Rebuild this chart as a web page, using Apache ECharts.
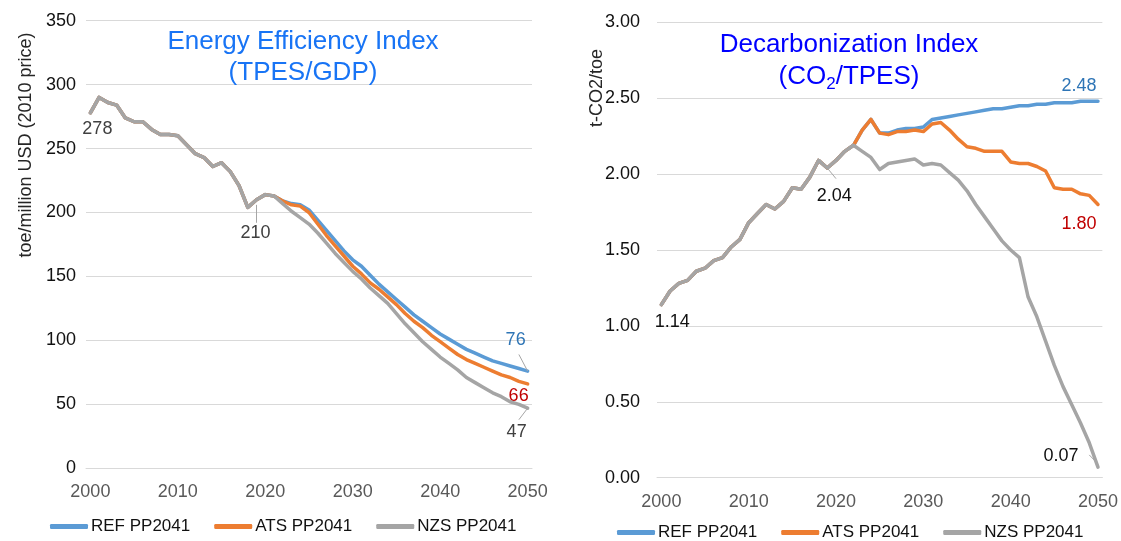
<!DOCTYPE html>
<html>
<head>
<meta charset="utf-8">
<script src="https://cdn.jsdelivr.net/npm/echarts@6/dist/echarts.min.js"></script>
<style>html,body{margin:0;padding:0;background:#fff;}#c{width:1121px;height:541px;}</style>
</head>
<body>
<div id="c"></div>
<script>
// ---- categories ----
var years = ['2000','2001','2002','2003','2004','2005','2006','2007','2008','2009',
  '2010','2011','2012','2013','2014','2015','2016','2017','2018','2019',
  '2020','2021','2022','2023','2024','2025','2026','2027','2028','2029',
  '2030','2031','2032','2033','2034','2035','2036','2037','2038','2039',
  '2040','2041','2042','2043','2044','2045','2046','2047','2048','2049','2050'];
var seriesNames = ['REF PP2041', 'ATS PP2041', 'NZS PP2041'];

// ---- Energy Efficiency Index (toe/million USD) ----
var eeREF = [278,290,286,284,274,271,271,265,261,261,260,253,246,243,236,239,232,221,204,210,214,213,
  209,207,206,202,194,186,178,170,163,158,151,144,138,132,126,120,115,110,105,101,97,93,90,87,84,82,80,78,76];
var eeATS = [278,290,286,284,274,271,271,265,261,261,260,253,246,243,236,239,232,221,204,210,214,213,
  209,206,205,200,191,182,174,166,158,152,145,140,134,128,121,115,110,104,99,94,89,85,82,79,76,73,71,68,66];
var eeNZS = [278,290,286,284,274,271,271,265,261,261,260,253,246,243,236,239,232,221,204,210,214,213,
  207,201,196,191,184,176,168,161,154,148,141,135,129,121,113,106,99,93,87,82,77,71,67,63,59,56,52,50,47];

// ---- Decarbonization Index (t-CO2/toe) ----
var diREF = [1.14,1.23,1.28,1.30,1.36,1.38,1.43,1.45,1.52,1.57,1.68,1.74,1.80,1.77,1.82,1.91,1.90,1.98,2.09,2.04,2.09,2.15,
  2.19,2.29,2.36,2.27,2.27,2.29,2.30,2.30,2.31,2.36,2.37,2.38,2.39,2.40,2.41,2.42,2.43,2.43,2.44,2.45,2.45,2.46,2.46,2.47,2.47,2.47,2.48,2.48,2.48];
var diATS = [1.14,1.23,1.28,1.30,1.36,1.38,1.43,1.45,1.52,1.57,1.68,1.74,1.80,1.77,1.82,1.91,1.90,1.98,2.09,2.04,2.09,2.15,
  2.19,2.29,2.36,2.27,2.26,2.28,2.28,2.29,2.28,2.33,2.34,2.29,2.23,2.18,2.17,2.15,2.15,2.15,2.08,2.07,2.07,2.05,2.02,1.91,1.90,1.90,1.87,1.86,1.80];
var diNZS = [1.14,1.23,1.28,1.30,1.36,1.38,1.43,1.45,1.52,1.57,1.68,1.74,1.80,1.77,1.82,1.91,1.90,1.98,2.09,2.04,2.09,2.15,
  2.19,2.15,2.11,2.03,2.07,2.08,2.09,2.10,2.06,2.07,2.06,2.01,1.96,1.89,1.80,1.72,1.64,1.56,1.50,1.45,1.19,1.06,0.90,0.74,0.60,0.48,0.36,0.23,0.07];

// ---- tick settings ----
var eeTicks = {min: 0, max: 350, interval: 50};
var diTicks = {min: 0, max: 3, interval: 0.5};

var FONT = '"Liberation Sans", Arial, sans-serif';
var colors = ['#5B9BD5', '#ED7D31', '#A5A5A5'];

function withLabels(arr, labels, fmt) {
  return arr.map(function (v, i) {
    var l = labels[i];
    if (!l) return v;
    return {
      value: v,
      label: {
        show: true, position: [l[0], l[1]], align: 'center', verticalAlign: 'middle',
        color: l[2], fontSize: 18, fontFamily: FONT,
        formatter: function (p) { return fmt(p.value); }
      }
    };
  });
}
var intFmt = function (v) { return String(Math.round(v)); };
var decFmt = function (v) { return Number(v).toFixed(2); };

var leaderStyle = {color: '#A6A6A6', width: 1, type: 'solid'};
function leaders(pairs) {
  return {
    silent: true, symbol: ['none', 'none'], label: {show: false},
    lineStyle: leaderStyle, animation: false,
    data: pairs.map(function (p) { return [{coord: p[0]}, {coord: p[1]}]; })
  };
}

function lineSeries(name, idx, data, xi, yi, extra) {
  var s = {
    name: name, type: 'line', xAxisIndex: xi, yAxisIndex: yi, data: data,
    showSymbol: true, showAllSymbol: true, symbol: 'circle', symbolSize: 2,
    lineStyle: {width: 3.5, color: colors[idx], cap: 'round', join: 'round'},
    itemStyle: {color: colors[idx]},
    label: {show: false}, emphasis: {disabled: true}, animation: false, z: 2 + idx
  };
  if (extra) for (var k in extra) s[k] = extra[k];
  return s;
}

var chart = echarts.init(document.getElementById('c'), null, {renderer: 'canvas'});

var axisLabelY = {color: '#111', fontSize: 18, fontFamily: FONT};
var axisLabelX = {color: '#595959', fontSize: 18, fontFamily: FONT, interval: 9, margin: 15};

var option = {
  backgroundColor: '#fff',
  animation: false,
  textStyle: {fontFamily: FONT},
  title: [
    {
      text: 'Energy Efficiency Index\n(TPES/GDP)',
      left: 303, top: 26, textAlign: 'center', padding: 0,
      textStyle: {fontSize: 26, lineHeight: 31.5, color: '#1874F5', fontWeight: 'normal', fontFamily: FONT}
    },
    {
      text: '{a|Decarbonization Index}\n{a|(CO}{s|2}{a|/TPES)}',
      left: 849, top: 29, textAlign: 'center', padding: 0,
      textStyle: {
        fontSize: 26, lineHeight: 32, color: '#0000FF', fontWeight: 'normal', fontFamily: FONT,
        rich: {
          a: {fontSize: 26, lineHeight: 32, color: '#0000FF', fontFamily: FONT},
          s: {fontSize: 17, lineHeight: 18, color: '#0000FF', verticalAlign: 'bottom', fontFamily: FONT}
        }
      }
    }
  ],
  legend: [
    {
      data: seriesNames, left: 50, top: 518, padding: 0, icon: 'roundRect', itemWidth: 38, itemHeight: 5,
      itemGap: 24, selectedMode: false,
      textStyle: {fontSize: 17, color: '#111', fontFamily: FONT, padding: [0, 0, 0, -2]}
    },
    {
      data: seriesNames, left: 617, top: 524, padding: 0, icon: 'roundRect', itemWidth: 38, itemHeight: 5,
      itemGap: 24, selectedMode: false,
      textStyle: {fontSize: 17, color: '#111', fontFamily: FONT, padding: [0, 0, 0, -2]}
    }
  ],
  grid: [
    {left: 86, top: 20.7, width: 446, height: 447.6, containLabel: false},
    {left: 657, top: 22.3, width: 446, height: 455.4, containLabel: false}
  ],
  xAxis: [
    {type: 'category', gridIndex: 0, data: years, boundaryGap: true,
      axisTick: {show: false}, axisLine: {show: true, lineStyle: {color: '#D9D9D9'}},
      axisLabel: axisLabelX},
    {type: 'category', gridIndex: 1, data: years, boundaryGap: true,
      axisTick: {show: false}, axisLine: {show: true, lineStyle: {color: '#D9D9D9'}},
      axisLabel: axisLabelX}
  ],
  yAxis: [
    {type: 'value', gridIndex: 0, min: eeTicks.min, max: eeTicks.max, interval: eeTicks.interval,
      axisLine: {show: false}, axisTick: {show: false},
      splitLine: {lineStyle: {color: '#D9D9D9', width: 1}},
      axisLabel: Object.assign({margin: 10}, axisLabelY)},
    {type: 'value', gridIndex: 1, min: diTicks.min, max: diTicks.max, interval: diTicks.interval,
      axisLine: {show: false}, axisTick: {show: false},
      splitLine: {lineStyle: {color: '#D9D9D9', width: 1}},
      axisLabel: Object.assign({margin: 17, formatter: function (v) { return v.toFixed(2); }}, axisLabelY)}
  ],
  graphic: [
    {type: 'text', x: 26, y: 145, rotation: Math.PI / 2, silent: true,
      style: {text: 'toe/million USD (2010 price)', fontSize: 18, fontFamily: FONT, fill: '#262626',
        align: 'center', verticalAlign: 'middle'}},
    {type: 'text', x: 597, y: 88, rotation: Math.PI / 2, silent: true,
      style: {text: 't-CO2/toe', fontSize: 18, fontFamily: FONT, fill: '#262626',
        align: 'center', verticalAlign: 'middle'}}
  ],
  series: [
    lineSeries(seriesNames[0], 0, withLabels(eeREF, {50: [-11, -30, '#2E75B6']}, intFmt), 0, 0,
      {markLine: leaders([[['2049', 89], ['2050', 76]]])}),
    lineSeries(seriesNames[1], 1, withLabels(eeATS, {50: [-8, 13, '#C00000']}, intFmt), 0, 0),
    lineSeries(seriesNames[2], 2, withLabels(eeNZS, {0: [8, 17, '#404040'], 19: [0, 34, '#404040'], 50: [-10, 25, '#404040']}, intFmt), 0, 0,
      {markLine: leaders([[['2019', 206], ['2019', 192]], [['2049', 38], ['2050', 47]]])}),

    lineSeries(seriesNames[0], 0, withLabels(diREF, {50: [-18, -14, '#2E75B6']}, decFmt), 1, 1),
    lineSeries(seriesNames[1], 1, withLabels(diATS, {50: [-18, 21, '#C00000']}, decFmt), 1, 1),
    lineSeries(seriesNames[2], 2, withLabels(diNZS, {0: [12, 18, '#111'], 19: [8, 29, '#111'], 50: [-36, -10, '#111']}, decFmt), 1, 1,
      {markLine: leaders([[['2019', 2.04], ['2020', 1.97]], [['2049', 0.15], ['2050', 0.09]]])})
  ]
};
chart.setOption(option);
</script>
</body>
</html>
